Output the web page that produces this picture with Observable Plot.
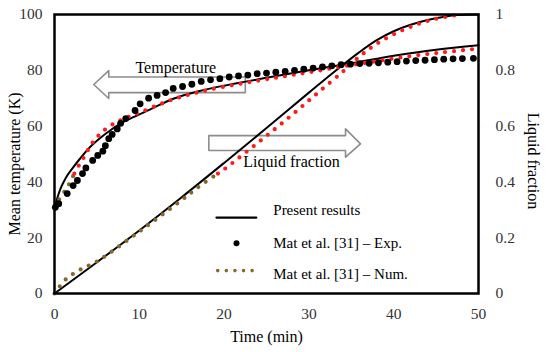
<!DOCTYPE html>
<html><head><meta charset="utf-8">
<script src="https://cdn.jsdelivr.net/npm/d3@7"></script>
<script src="https://cdn.jsdelivr.net/npm/@observablehq/plot@0.6"></script>
<style>
body{margin:0;background:#fff}
#chart svg, #chart svg text { font-family: "Liberation Serif", "Times New Roman", Times, serif !important; }
</style>
</head><body><div id="chart"></div>
<script>
// ---- data (time in min) ----
const xTicks = [0, 10, 20, 30, 40, 50];
const yTicks = [0, 20, 40, 60, 80, 100];
const rightTickLabels = ["0", "0.2", "0.4", "0.6", "0.8", "1"];

// Mean temperature (K) - present results
const tempPresent = [[0,30.5],[0.35,34.4],[0.7,37.5],[1,39.5],[1.5,42.3],[2,44.4],[3,48.3],[4.2,52.5],[5.5,56],[6.6,58.5],[8,61.3],[9,62.8],[11.3,66],[14,69.8],[17,72.5],[20,74.5],[25,77.3],[30,80],[35,82.5],[40,85.2],[45,87.4],[50,89]];
// Mean temperature - Mat et al. numerical
const tempNum = [[0,31],[0.5,33.5],[1.1,36.2],[1.5,38],[2.1,41.5],[2.5,44],[3.1,47],[3.7,50],[4.2,52.8],[4.8,55.3],[5.5,57.5],[6.3,59.6],[7.2,61.2],[8,62.4],[9,63.6],[10,64.8],[12,67.3],[14,69.6],[16,71.4],[18,72.9],[21,74.7],[24,76.3],[27,77.8],[30,79.3],[34,81.4],[38,83.3],[42,85.1],[46,86.5],[49.7,87.7]];
// Mean temperature - Mat et al. experimental
const tempExp = [[0.1,30.9],[0.5,32.2],[1.5,35.8],[2.2,38.7],[2.7,40.5],[3.3,43],[3.7,45],[4.5,47.7],[5.1,49.5],[5.7,51],[6.0,53],[6.4,55.5],[6.8,57],[7.4,59],[7.8,61],[8.4,62.7],[9.5,65.6],[10.1,68],[11.1,70],[12.1,71],[13.1,72],[14.0,73.5],[15.1,74.2],[16.2,75],[17.3,76],[18.4,76.6],[19.5,77],[20.6,77.6],[21.7,78],[22.8,78.3],[23.9,78.8],[25,79],[26.1,79.3],[27.2,79.6],[28.3,80],[29.4,80.4],[30.5,80.8],[31.6,81.2],[32.7,81.6],[33.8,82],[34.9,82.2],[36,82.4],[37.1,82.5],[38.2,82.7],[39.3,82.9],[40.4,83.1],[41.5,83.3],[42.6,83.5],[43.7,83.6],[44.8,83.8],[45.9,84],[47,84.1],[48.1,84.2],[49.4,84.3]];
// Liquid fraction - present results
const lfPresent = [[0,0],[5,0.112],[10,0.226],[15,0.345],[20,0.468],[25,0.593],[30,0.72],[33,0.795],[36,0.866],[38,0.908],[40,0.94],[42,0.963],[44,0.98],[46,0.992],[47.5,0.998],[50,1]];
// Liquid fraction - Mat et al. numerical
const lfNum = [[0,0],[1.3,0.05],[3,0.085],[5,0.115],[10,0.222],[15,0.335],[17.2,0.387],[20,0.445],[24.5,0.553],[28,0.64],[31,0.718],[34,0.795],[36,0.85],[38,0.895],[40.4,0.935],[42.8,0.965],[45.2,0.986],[47.5,0.998]];

// annotation arrows (data coordinates: time, left-axis value)
const arrowTemp = [[4.63,74.9],[6.4,79.9],[6.4,77.6],[22.5,77.6],[22.5,72.0],[6.4,72.0],[6.4,69.9],[4.63,74.9]];
const arrowLiquid = [[18.2,56.6],[34.32,56.6],[34.32,59.0],[36.08,53.65],[34.32,48.85],[34.32,51.25],[18.2,51.25],[18.2,56.6]];
const arrowLabels = [{t:14.3, v:80.8, label:"Temperature"},{t:27.95, v:47, label:"Liquid fraction"}];

// legend entries
const legendLine = [[19.1,27.2],[23.8,27.2]];
const legendDot = [[21.46,18.0]];
const legendDotted = [[19.25,8.2],[23.4,8.2]];
const legendText = [{t:25.8, v:29.7, label:"Present results"},{t:25.8, v:18.2, label:"Mat et al. [31] – Exp."},{t:25.8, v:7.0, label:"Mat et al. [31] – Num."}];

// ---- helpers ----
const RED = "#ff1a1a", BROWN = "#85672a";
const THR = 43; // colour change of the dotted series (left-axis units)
function splitAt(pts, thr) {
  const i = pts.findIndex(p => p[1] >= thr);
  if (i <= 0) return [[], pts];
  const a = pts[i-1], b = pts[i];
  const f = (thr - a[1]) / (b[1] - a[1]);
  const m = [a[0] + f*(b[0]-a[0]), thr];
  return [pts.slice(0, i).concat([m]), [m].concat(pts.slice(i))];
}
const tNum = splitAt(tempNum, THR);
const lNumScaled = lfNum.map(d => [d[0], d[1]*100]);
const lNum = splitAt(lNumScaled, THR);
const dotted = {strokeWidth: 4.2, strokeDasharray: "0 9", strokeLinecap: "round", curve: "catmull-rom"};
const X = d => d[0], Y = d => d[1];

const chart = Plot.plot({
  width: 550, height: 352,
  marginLeft: 54, marginRight: 72, marginTop: 14, marginBottom: 59,
  x: {domain: [0, 50]},
  y: {domain: [0, 100]},
  style: {fontSize: "15.5px", color: "#333", background: "white"},
  marks: [
    Plot.axisX({ticks: xTicks, tickSize: 0, tickPadding: 14, label: null}),
    Plot.axisY({anchor: "left", ticks: yTicks, tickSize: 0, tickPadding: 12, label: null}),
    Plot.axisY({anchor: "right", ticks: yTicks, tickSize: 0, tickPadding: 17, label: null,
      tickFormat: (d) => rightTickLabels[yTicks.indexOf(d)]}),
    Plot.text(["Time (min)"], {text: d => d, frameAnchor: "bottom", textAnchor: "middle", lineAnchor: "middle", dy: 43, fontSize: 16, fill: "black"}),
    Plot.text(["Mean temperature (K)"], {text: d => d, frameAnchor: "left", textAnchor: "middle", lineAnchor: "middle", rotate: -90, dx: -40, dy: 10, fontSize: 16, fill: "black"}),
    Plot.text(["Liquid fraction"], {text: d => d, frameAnchor: "right", textAnchor: "middle", lineAnchor: "middle", rotate: 90, dx: 55, dy: 7, fontSize: 16, fill: "black"}),
    // arrows
    Plot.line(arrowTemp, {x: X, y: Y, stroke: "#8c8c8c", strokeWidth: 1.6, fill: "white", curve: "linear"}),
    Plot.line(arrowLiquid, {x: X, y: Y, stroke: "#8c8c8c", strokeWidth: 1.6, fill: "white", curve: "linear"}),
    Plot.text(arrowLabels, {x: "t", y: "v", text: "label", fontSize: 16, fill: "black"}),
    // series
    Plot.line(tempPresent, {x: X, y: Y, stroke: "black", strokeWidth: 2, curve: "catmull-rom"}),
    Plot.line(lfPresent, {x: X, y: d => d[1]*100, stroke: "black", strokeWidth: 2, curve: "catmull-rom"}),
    Plot.line(tNum[0], {x: X, y: Y, stroke: BROWN, ...dotted}),
    Plot.line(tNum[1], {x: X, y: Y, stroke: RED, ...dotted}),
    Plot.line(lNum[0], {x: X, y: Y, stroke: BROWN, ...dotted}),
    Plot.line(lNum[1], {x: X, y: Y, stroke: RED, ...dotted}),
    Plot.dot(tempExp, {x: X, y: Y, r: 3.4, fill: "black", stroke: "none"}),
    // legend
    Plot.line(legendLine, {x: X, y: Y, stroke: "black", strokeWidth: 2.2}),
    Plot.dot(legendDot, {x: X, y: Y, r: 3, fill: "black", stroke: "none"}),
    Plot.line(legendDotted, {x: X, y: Y, stroke: BROWN, strokeWidth: 3.6, strokeDasharray: "0 8.6", strokeLinecap: "round"}),
    Plot.text(legendText, {x: "t", y: "v", text: "label", textAnchor: "start", fontSize: 15, fill: "black"}),
    Plot.frame({stroke: "black", strokeWidth: 2.5})
  ]
});
document.getElementById("chart").appendChild(chart);
</script>
</body></html>
